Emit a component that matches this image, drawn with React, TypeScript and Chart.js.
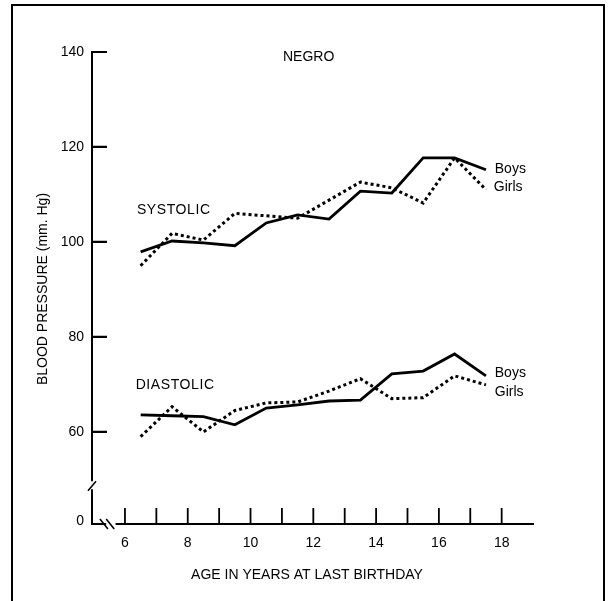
import React, { useEffect, useRef } from "react";
import { Chart, registerables } from "chart.js";

Chart.register(...registerables);

// ---- Data ----
const ages = [6.5, 7.5, 8.5, 9.5, 10.5, 11.5, 12.5, 13.5, 14.5, 15.5, 16.5, 17.5];
const systolicBoys = [97.9, 100.2, 99.8, 99.2, 104.0, 105.7, 104.8, 110.7, 110.3, 117.7, 117.7, 115.2];
const systolicGirls = [95.0, 101.8, 100.4, 106.0, 105.5, 105.0, 108.8, 112.6, 111.4, 108.2, 117.7, 111.0];
const diastolicBoys = [63.6, 63.4, 63.2, 61.5, 65.0, 65.7, 66.5, 66.7, 72.2, 72.8, 76.4, 71.8];
const diastolicGirls = [59.0, 65.3, 60.0, 64.5, 66.1, 66.3, 68.6, 71.2, 67.0, 67.2, 71.8, 69.9];

const yTickValues = [60, 80, 100, 120, 140];
const xTickValues = [6, 7, 8, 9, 10, 11, 12, 13, 14, 15, 16, 17, 18];
const xLabelValues = [6, 8, 10, 12, 14, 16, 18];
const zeroLabel = "0";

const FONT = '"Liberation Sans", Arial, Helvetica, sans-serif';

const pts = (vals: number[]) => vals.map((v, i) => ({ x: ages[i], y: v }));

const decorPlugin = {
  id: "decor",
  afterDraw(chart: any) {
    const { ctx, scales, chartArea } = chart;
    const xs = scales.x;
    const ys = scales.y;
    const X = (v: number) => xs.getPixelForValue(v);
    const Y = (v: number) => ys.getPixelForValue(v);
    const left = chartArea.left;
    const bottom = chartArea.bottom;
    ctx.save();
    ctx.strokeStyle = "#000";
    ctx.fillStyle = "#000";
    ctx.lineCap = "butt";

    // outer frame
    ctx.lineWidth = 2;
    ctx.strokeRect(12, 5, 592, 610);

    // y axis with break
    ctx.lineWidth = 2;
    ctx.beginPath();
    ctx.moveTo(left, Y(140) - 1);
    ctx.lineTo(left, Y(49.6));
    ctx.moveTo(left, Y(47.9));
    ctx.lineTo(left, bottom + 1);
    ctx.stroke();
    ctx.lineWidth = 1.6;
    ctx.beginPath();
    ctx.moveTo(left - 4, Y(47.6));
    ctx.lineTo(left + 4, Y(49.6));
    ctx.stroke();

    // x axis with break
    ctx.lineWidth = 2;
    ctx.beginPath();
    ctx.moveTo(left - 1, bottom);
    ctx.lineTo(X(5.4), bottom);
    ctx.moveTo(X(5.7), bottom);
    ctx.lineTo(chartArea.right, bottom);
    ctx.stroke();
    ctx.lineWidth = 1.6;
    ctx.beginPath();
    ctx.moveTo(X(5.33) - 4, bottom - 5);
    ctx.lineTo(X(5.33) + 4, bottom + 5);
    ctx.moveTo(X(5.53) - 4, bottom - 5);
    ctx.lineTo(X(5.53) + 4, bottom + 5);
    ctx.stroke();

    // y ticks (inward)
    ctx.lineWidth = 2.2;
    ctx.beginPath();
    yTickValues.forEach((v) => {
      ctx.moveTo(left, Y(v));
      ctx.lineTo(left + 15, Y(v));
    });
    ctx.stroke();

    // x ticks (upward)
    ctx.lineWidth = 1.8;
    ctx.beginPath();
    xTickValues.forEach((v) => {
      ctx.moveTo(X(v), bottom);
      ctx.lineTo(X(v), bottom - 16);
    });
    ctx.stroke();

    // tick labels
    ctx.font = `14px ${FONT}`;
    ctx.textAlign = "right";
    ctx.textBaseline = "middle";
    yTickValues.forEach((v) => {
      ctx.fillText(String(v), left - 8, Y(v));
    });
    ctx.fillText(zeroLabel, left - 8, bottom - 3);

    ctx.textAlign = "center";
    ctx.textBaseline = "middle";
    xLabelValues.forEach((v) => {
      ctx.fillText(String(v), X(v), bottom + 19);
    });

    // axis titles
    ctx.font = `14px ${FONT}`;
    ctx.fillText("AGE IN YEARS AT LAST BIRTHDAY", 307, bottom + 51);
    ctx.save();
    ctx.translate(43, 289);
    ctx.rotate(-Math.PI / 2);
    ctx.font = `14px ${FONT}`;
    ctx.fillText("BLOOD PRESSURE (mm. Hg)", 0, 0);
    ctx.restore();

    // annotations
    ctx.font = `14px ${FONT}`;
    ctx.textAlign = "center";
    ctx.fillText("NEGRO", X(11.85), Y(138.9));
    ctx.textAlign = "left";
    (ctx as any).letterSpacing = "0.6px";
    ctx.fillText("SYSTOLIC", X(6.38), Y(106.7));
    ctx.fillText("DIASTOLIC", X(6.34), Y(69.9));
    (ctx as any).letterSpacing = "0px";
    ctx.font = `14px ${FONT}`;
    ctx.fillText("Boys", X(17.78), Y(115.4));
    ctx.fillText("Girls", X(17.75), Y(111.6));
    ctx.fillText("Boys", X(17.78), Y(72.4));
    ctx.fillText("Girls", X(17.78), Y(68.4));

    ctx.restore();
  },
};

export default function App() {
  const ref = useRef<HTMLCanvasElement | null>(null);

  useEffect(() => {
    if (!ref.current) return;
    const solid = {
      borderColor: "#000",
      borderWidth: 2.8,
      pointRadius: 0,
      tension: 0,
      fill: false,
    };
    const dotted = {
      borderColor: "#000",
      borderWidth: 3,
      borderDash: [3, 3],
      pointRadius: 0,
      tension: 0,
      fill: false,
    };
    const chart = new Chart(ref.current, {
      type: "line",
      data: {
        datasets: [
          { label: "Systolic Boys", data: pts(systolicBoys), ...solid },
          { label: "Systolic Girls", data: pts(systolicGirls), ...dotted },
          { label: "Diastolic Boys", data: pts(diastolicBoys), ...solid },
          { label: "Diastolic Girls", data: pts(diastolicGirls), ...dotted },
        ],
      },
      options: {
        responsive: false,
        animation: false,
        layout: { padding: { left: 92, right: 80, top: 52, bottom: 77 } },
        plugins: {
          legend: { display: false },
          tooltip: { enabled: false },
        },
        scales: {
          x: { type: "linear", min: 4.95, max: 19.03, display: false },
          y: { type: "linear", min: 40.6, max: 140, display: false },
        },
      },
      plugins: [decorPlugin],
    });
    return () => chart.destroy();
  }, []);

  return (
    <div style={{ position: "absolute", left: 0, top: 0, width: 614, height: 601, background: "#fff" }}>
      <canvas ref={ref} width={614} height={601} style={{ display: "block" }} />
    </div>
  );
}
